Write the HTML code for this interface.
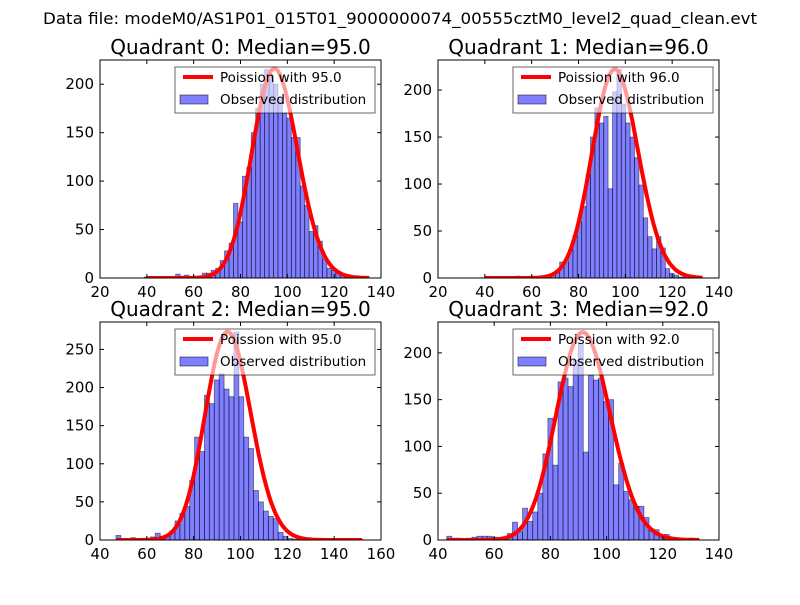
<!DOCTYPE html>
<html><head><meta charset="utf-8"><style>
body{margin:0;background:#fff}
svg text{font-family:"DejaVu Sans","Liberation Sans",sans-serif}
</style></head><body>
<svg id="c" width="800" height="600" xmlns="http://www.w3.org/2000/svg">
<rect width="800" height="600" fill="#fff"/>
<text x="400" y="24" font-size="16" text-anchor="middle" textLength="714" lengthAdjust="spacingAndGlyphs">Data file: modeM0/AS1P01_015T01_9000000074_00555cztM0_level2_quad_clean.evt</text>
</svg>
<script>
const titles=["Quadrant 0: Median=95.0","Quadrant 1: Median=96.0","Quadrant 2: Median=95.0","Quadrant 3: Median=92.0"];
const lambdas=[95,96,95,92];
const curvePeaks=[216,222,273,222];
const curveStart=[40,40,47,43];
const curveEnd=[135,133,152,133];
const binStarts=[39,40,46.8,43.1];
const binWidths=[1.9,1.88,2.1,1.8];
const xMins=[20,20,40,40], xMaxs=[140,140,160,140];
const xTickSteps=[20,20,20,20];
const yMaxs=[225,232,286,233];
const yTickVals=[[0,50,100,150,200],[0,50,100,150,200],[0,50,100,150,200,250],[0,50,100,150,200]];
const counts0=[1,0,0,0,0,0,0,4,2,3,0,0,1,5,5,8,10,18,28,36,77,58,105,114,150,175,200,215,210,200,185,170,165,145,145,95,75,48,54,38,20,10,8,5,4,1,1,0,0,0];
const counts1=[0,0,0,0,0,0,0,2,1,0,0,1,0,2,2,4,8,17,17,30,45,60,76,110,150,181,165,172,95,198,222,185,165,150,128,99,64,44,31,44,32,10,5,3,1,1,0,0,0,0];
const counts2=[6,0,0,3,2,0,0,4,9,5,5,12,25,35,44,78,135,116,190,179,210,218,198,188,273,188,135,120,65,50,38,31,28,10,5,2,1,1,0,0,0,0,0,0,0,0,0,0,0,1];
const counts3=[4,2,2,1,2,3,4,4,4,3,2,3,7,19,9,34,20,30,50,92,130,80,169,173,164,192,210,94,176,171,173,148,150,59,82,52,43,36,36,24,12,11,5,6,2,1,0,0,2,0];
const allCounts=[counts0,counts1,counts2,counts3];
const axes=[[100,60],[438,60],[100,322],[438,322]];
const AW=281,AH=218;
const NS="http://www.w3.org/2000/svg";
const svg=document.getElementById('c');
function mk(t,a,p){const e=document.createElementNS(NS,t);for(const k in a)e.setAttribute(k,a[k]);(p||svg).appendChild(e);return e;}
function lgamma(n){let s=0;for(let i=2;i<=n;i++)s+=Math.log(i);return s;}
function pois(k,l){return Math.exp(k*Math.log(l)-l-lgamma(k));}
for(let q=0;q<4;q++){
  const [ax,ay]=axes[q];
  const sx=v=>ax+(v-xMins[q])/(xMaxs[q]-xMins[q])*AW;
  const sy=v=>ay+AH-v/yMaxs[q]*AH;
  const g=mk('g',{});
  
  
  const cp=mk('clipPath',{id:'cl'+q},g);mk('rect',{x:ax,y:ay,width:AW,height:AH},cp);
  const bars=mk('g',{'clip-path':'url(#cl'+q+')'},g);
  allCounts[q].forEach((c,i)=>{
    if(c<=0)return;
    const x0=sx(binStarts[q]+i*binWidths[q]),x1=sx(binStarts[q]+(i+1)*binWidths[q]);
    const r=mk('rect',{x:x0,y:sy(c),width:x1-x0,height:sy(0)-sy(c),fill:'#0000ff','fill-opacity':0.5,stroke:'#000','stroke-opacity':0.5,'stroke-width':0.8},bars);
    
    
  });
  const l=lambdas[q],sc=curvePeaks[q]/pois(Math.floor(l),l);
  let d='';
  for(let k=curveStart[q];k<=curveEnd[q];k++){d+=(d?'L':'M')+sx(k).toFixed(1)+','+sy(pois(k,l)*sc).toFixed(1);}
  const pl=mk('path',{d:d,fill:'none',stroke:'#ff0000','stroke-width':4,'stroke-linejoin':'round'},bars);
  
  
  const fr=mk('rect',{x:ax,y:ay,width:AW,height:AH,fill:'none',stroke:'#000','stroke-width':1},g);
  
  
  for(let v=xMins[q];v<=xMaxs[q];v+=xTickSteps[q]){
    const x=sx(v);
    mk('line',{x1:x,y1:ay+AH,x2:x,y2:ay+AH-4,stroke:'#000'},g);
    mk('line',{x1:x,y1:ay,x2:x,y2:ay+4,stroke:'#000'},g);
    const t=mk('text',{x:x,y:ay+AH+19,'font-size':15,'text-anchor':'middle'},g);t.textContent=v;
    
    
  }
  yTickVals[q].forEach(v=>{
    const y=sy(v);
    mk('line',{x1:ax,y1:y,x2:ax+4,y2:y,stroke:'#000'},g);
    mk('line',{x1:ax+AW,y1:y,x2:ax+AW-4,y2:y,stroke:'#000'},g);
    const t=mk('text',{x:ax-6,y:y+5,'font-size':15,'text-anchor':'end'},g);t.textContent=v;
    
    
  });
  const tt=mk('text',{x:ax+AW/2,y:ay-6,'font-size':20,'text-anchor':'middle'},g);tt.textContent=titles[q];
  
  
  const lg=mk('g',{},g);
  
  
  const lx=ax+75,ly=ay+7;
  mk('rect',{x:lx,y:ly,width:200,height:46,fill:'#fff','fill-opacity':0.6,stroke:'#000','stroke-opacity':0.6},lg);
  mk('line',{x1:lx+8,y1:ly+10,x2:lx+38,y2:ly+10,stroke:'#ff0000','stroke-width':4},lg);
  const t1=mk('text',{x:lx+45,y:ly+15,'font-size':13.5},lg);t1.textContent='Poission with '+lambdas[q].toFixed(1);
  
  
  mk('rect',{x:lx+5,y:ly+28,width:28,height:9,fill:'#0000ff','fill-opacity':0.5,stroke:'#000','stroke-opacity':0.5},lg);
  const t2=mk('text',{x:lx+45,y:ly+37,'font-size':13.5},lg);t2.textContent='Observed distribution';
  
  
}
</script>
</body></html>
